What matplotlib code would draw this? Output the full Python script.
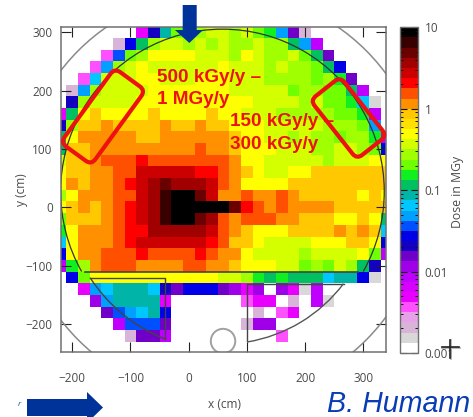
import numpy as np
import matplotlib
matplotlib.use("Agg")
import matplotlib.pyplot as plt
from matplotlib.colors import ListedColormap, LogNorm
from matplotlib.patches import Arc, Circle, FancyBboxPatch, Polygon
from matplotlib.lines import Line2D
from matplotlib.transforms import Affine2D
from matplotlib.ticker import FixedLocator, NullFormatter

W, H = 473, 417
# colour bands of the scale, top (10 MGy) to bottom (0.001 MGy), 8 per decade
band_colors = ["#000000", "#3a0000", "#6a0000", "#a00000", "#cc0000", "#ff0000", "#ff5000", "#ff9000",
               "#ffc800", "#ffe000", "#ffff00", "#d4ff00", "#a0ff00", "#70ff00", "#10f020", "#00c060",
               "#00b4a8", "#00c8ff", "#00a0ff", "#0050ff", "#0000e8", "#1400c0", "#7000c8", "#a000e8",
               "#c000ff", "#d800ff", "#e800ff", "#ff50ff", "#e8a0e8", "#d8b4d8", "#d8d8d8", "#ffffff"]
_ = -1
k0, k1, k2, S, Z, R, F, O = 0, 1, 2, 3, 4, 5, 6, 7
G, G2, Y, L, A, M, N, E = 8, 9, 10, 11, 12, 13, 14, 15
T, C, B, U, D, V, P, Q = 16, 17, 18, 19, 20, 21, 22, 23
W_, X2, X, I, J2, J, K, WH = 24, 25, 26, 27, 28, 29, 30, 31

x_centers = list(range(-220, 341, 20))
y_centers = list(range(300, -221, -20))

r_p300 = [_,_,_,_,_,_,_,X,V,T,M,A,A,L,L,A,L,M,N,B,P,J,_,_,_,_,_,_,_]
r_p280 = [_,_,_,_,_,J,D,E,A,L,L,A,L,A,L,A,A,L,A,A,E,B,W_,_,_,_,_,_,_]
r_p260 = [_,_,_,_,I,U,M,A,Y,Y,Y,Y,L,L,L,A,Y,L,A,A,L,M,E,P,_,_,_,_,_]
r_p240 = [_,_,_,I,B,A,L,Y,L,L,L,L,L,L,Y,L,L,L,A,L,A,A,M,E,D,_,_,_,_]
r_p220 = [_,_,I,C,L,L,L,Y,Y,L,L,L,Y,Y,Y,L,L,L,A,A,A,A,M,A,N,P,_,_,_]
r_p200 = [_,J,B,A,L,L,L,L,Y,Y,Y,Y,Y,Y,Y,L,L,L,L,L,M,A,A,M,M,E,W_,_,_]
r_p180 = [_,V,A,L,L,L,L,Y,Y,Y,Y,Y,Y,Y,Y,Y,Y,L,L,L,L,A,L,M,M,N,C,K,_]
r_p160 = [X,E,Y,G,Y,Y,Y,Y,G,Y,Y,Y,Y,G,Y,Y,L,L,L,A,A,A,A,A,M,M,N,W_,_]
r_p140 = [V,A,G,G,O,G,G,G,G,O,G,G,O,G,G,Y,Y,Y,L,L,L,L,L,A,A,A,M,B,_]
r_p120 = [E,Y,O,O,O,O,O,G,G,O,O,O,O,O,O,G,Y,Y,L,L,A,L,A,A,M,A,A,N,W_]
r_p100 = [E,G,G,O,O,O,O,O,O,O,O,O,F,O,O,G,Y,Y,Y,L,L,L,A,A,L,L,A,M,D]
r_p080 = [L,G,G,O,F,F,F,R,F,F,F,F,F,F,F,O,Y,Y,L,L,L,L,L,A,L,L,L,Y,Y]
r_p060 = [Y,G,G,O,O,F,F,Z,Z,Z,Z,Z,R,R,F,O,G,Y,L,L,Y,Y,G,G,G,G,G,G,G]
r_p040 = [Y,O,G,O,O,F,R,Z,S,k2,S,S,S,Z,F,O,Y,Y,Y,Y,G,G,G,G,G,G,G,G,G]
r_p020 = [A,Y,O,O,O,F,F,Z,S,k1,k0,k0,k2,Z,O,O,F,O,O,F,O,G,G,G,G,G,Y,G,Y]
r_000 = [Y,G,O,G,O,F,R,Z,S,k1,k0,k0,k0,k0,k0,k2,R,F,O,F,O,O,O,O,G,G,G,G,G]
r_m020 = [M,G,G,G,O,F,R,Z,S,k1,k0,k0,k2,S,F,O,F,F,F,O,O,G,G,G,Y,Y,G,Y,E]
r_m040 = [N,Y,O,O,O,F,R,R,S,S,S,S,S,Z,F,O,G,Y,Y,Y,G,G,G,G,O,G,O,G,C]
r_m060 = [C,Y,O,O,O,F,R,Z,Z,Z,Z,Z,Z,R,F,G,G,Y,L,L,L,L,Y,Y,Y,G,G,Y,D]
r_m080 = [D,Y,O,O,F,F,F,R,F,F,F,F,R,F,O,O,Y,L,L,L,L,A,L,L,L,L,Y,M,W_]
r_m100 = [W_,N,A,O,F,F,F,O,O,O,O,F,F,O,O,G,Y,Y,Y,L,L,M,A,M,L,A,E,V,_]
r_m120 = [_,D,M,Y,Y,Y,Y,Y,Y,Y,Y,Y,Y,Y,L,L,A,N,E,N,E,E,E,C,T,T,D,K,_]
r_m140 = [_,_,X,B,C,T,T,T,C,V,P,D,D,D,P,Q,X,Q,_,Q,X,K,W_,_,_,_,_,_,_]
r_m160 = [_,_,_,Q,B,T,T,T,T,X,_,_,_,_,_,_,I,X,X,_,J,_,W_,K,_,_,_,_,_]
r_m180 = [_,_,_,_,P,U,B,C,T,D,_,_,_,_,_,_,_,J,_,I,X,_,_,_,_,_,_,_,_]
r_m200 = [_,_,_,_,_,W_,U,U,U,P,_,_,_,_,_,_,J,Q,Q,_,_,_,_,_,_,_,_,_,_]
r_m220 = [_,_,_,_,_,_,J,P,P,W_,_,_,_,_,_,_,_,_,_,I,_,_,_,_,_,_,_,_,_]

rows = [r_p300, r_p280, r_p260, r_p240, r_p220, r_p200, r_p180, r_p160, r_p140, r_p120, r_p100,
        r_p080, r_p060, r_p040, r_p020, r_000, r_m020, r_m040, r_m060, r_m080, r_m100, r_m120,
        r_m140, r_m160, r_m180, r_m200, r_m220]

x_ticks = [-200, -100, 0, 100, 200, 300]
y_ticks = [-200, -100, 0, 100, 200, 300]
cb_ticks = [0.001, 0.01, 0.1, 1, 10]
cb_labels = ["0.001", "0.01", "0.1", "1", "10"]

plt.rcParams['font.family'] = ['Open Sans', 'DejaVu Sans']
GREY_T = "#4a4a4a"
GREY_F = "#707070"
RED = "#ee1111"
NAVY = "#003399"

fig = plt.figure(figsize=(W / 100, H / 100), dpi=100)
px = Affine2D().scale(1, -1).translate(0, H)


def axpos(l, t, r, b):
    return [l / W, 1 - b / H, (r - l) / W, (b - t) / H]


ax = fig.add_axes(axpos(61, 27.3, 386, 352.3))
ax.set_xlim(-219.4, 339)
ax.set_ylim(-248.2, 308.2)

levels = np.array(rows, dtype=float)
dose = np.where(levels < 0, np.nan, 10 ** (1 - (levels + 0.5) / 8))
cmap = ListedColormap(band_colors[::-1])
cmap.set_bad("white")
norm = LogNorm(0.001, 10)
xe = np.array(x_centers + [360]) - 10
ye = np.array(y_centers + [-240]) + 10
mesh = ax.pcolormesh(xe, ye, np.ma.masked_invalid(dose), cmap=cmap, norm=norm, rasterized=True, zorder=1)

# detector outlines
ax.add_patch(Circle((57.6, 20.6), 350, fill=False, ec="#8a8a8a", lw=1.1, zorder=3))
ax.add_patch(Arc((58, 27), 2 * 278, 2 * 278, theta1=-29.5, theta2=209.5, ec="#333333", lw=0.9, zorder=3))
ax.add_line(Line2D([-178, 291], [-110, -110], color="#444444", lw=1.2, zorder=3))
ax.add_line(Line2D([-169, -41, -41], [-120.6, -120.6, -225], color="#444444", lw=1.0, zorder=3))
ax.add_patch(Arc((58, 27), 2 * 271, 2 * 271, theta1=213, theta2=248.6, ec="#444444", lw=1.0, zorder=3))
ax.add_line(Line2D([266, 100, 100], [-131, -131, -229], color="#444444", lw=1.0, zorder=3))
ax.add_patch(Arc((58, 27), 2 * 261, 2 * 261, theta1=-80.7, theta2=-37.2, ec="#555555", lw=1.0, zorder=3))
ax.add_patch(Circle((59, -229), 21, fill=False, ec="#a0a0a0", lw=1.4, zorder=3))

ax.set_xticks(x_ticks)
ax.set_yticks(y_ticks)
ax.tick_params(direction="in", length=7.2, width=0.8, color="#222222", labelsize=8.5,
               labelcolor=GREY_T, top=True, right=True)
ax.tick_params(axis="x", pad=14)
ax.tick_params(axis="y", pad=6)
ax.set_axisbelow(False)
for s in ax.spines.values():
    s.set_color(GREY_F)
    s.set_linewidth(1.1)
    s.set_zorder(4)

fig.text(224 / W, 1 - 404 / H, "x (cm)", ha="center", va="center", fontsize=8.6, color=GREY_T)
fig.text(21 / W, 1 - 190 / H, "y (cm)", ha="center", va="center", rotation=90, fontsize=8.6, color=GREY_T)

# colour bar
cax = fig.add_axes(axpos(400, 27.3, 417.5, 353))
cb = fig.colorbar(mesh, cax=cax)
cb.set_ticks(cb_ticks)
cb.set_ticklabels(cb_labels)
minor = [m * 10.0 ** e for e in range(-3, 1) for m in range(2, 10)]
cax.yaxis.set_minor_locator(FixedLocator(minor))
cax.yaxis.set_minor_formatter(NullFormatter())
cax.tick_params(which="major", direction="in", length=5, width=0.8, color="#111111", labelsize=8.5,
                labelcolor=GREY_T, left=True, right=True, pad=5)
cax.tick_params(which="minor", direction="in", length=2.2, width=0.7, color="#111111", left=True, right=True)
cb.outline.set_edgecolor(GREY_F)
cb.outline.set_linewidth(1.0)
fig.text(457 / W, 1 - 192 / H, "Dose in MGy", rotation=90, ha="center", va="center", fontsize=8.8, color=GREY_T)


def rounded(cx, cy, length, height, angle, r=7):
    tr = Affine2D().rotate_deg(angle).translate(cx, cy) + px
    return FancyBboxPatch((-length / 2 + r, -height / 2 + r), length - 2 * r, height - 2 * r,
                          boxstyle=f"round,pad={r},rounding_size={r}", fill=False, ec=RED, lw=3.0,
                          transform=tr, zorder=6)


fig.add_artist(rounded(103, 116.5, 92, 38, 126))
fig.add_artist(rounded(348.5, 118, 75, 38, 51.7))

for tx, ty, s in [(157, 78, "500 kGy/y –"), (157, 100, "1 MGy/y"), (230, 121, "150 kGy/y –"), (230, 144, "300 kGy/y")]:
    fig.text(tx / W, 1 - ty / H, s, color=RED, fontsize=13.6, fontweight="bold", family="Liberation Sans",
             ha="left", va="center", zorder=7)

# beam arrows
fig.add_artist(Polygon([(182.7, 5), (196.7, 5), (196.7, 30), (203, 30), (189.3, 43), (175, 30), (182.7, 30)],
                       closed=True, fc=NAVY, ec="none", transform=px, zorder=5))
fig.add_artist(Polygon([(27, 399), (87, 399), (87, 392), (103, 407.5), (87, 423), (87, 416), (27, 416)],
                       closed=True, fc=NAVY, ec="none", transform=px, zorder=5))
fig.text(19 / W, 1 - 405 / H, "r", color="#1a4fc0", fontsize=6, style="italic", ha="center", va="center")
fig.text(327 / W, 1 - 412 / H, "B. Humann", color="#0a3cb4", fontsize=20.6, style="italic",
         family="Liberation Sans", ha="left", va="baseline")

# cursor cross
fig.add_artist(Line2D([442, 460], [348, 348], color="#aaaaaa", lw=1.2, transform=px, zorder=8))
fig.add_artist(Line2D([451, 451], [340, 359], color="#aaaaaa", lw=1.2, transform=px, zorder=8))
fig.add_artist(Line2D([441.5, 459], [347, 347], color="#222222", lw=1.2, transform=px, zorder=9))
fig.add_artist(Line2D([450, 450], [339.5, 358], color="#222222", lw=1.2, transform=px, zorder=9))

fig.savefig("out.png", dpi=100)
